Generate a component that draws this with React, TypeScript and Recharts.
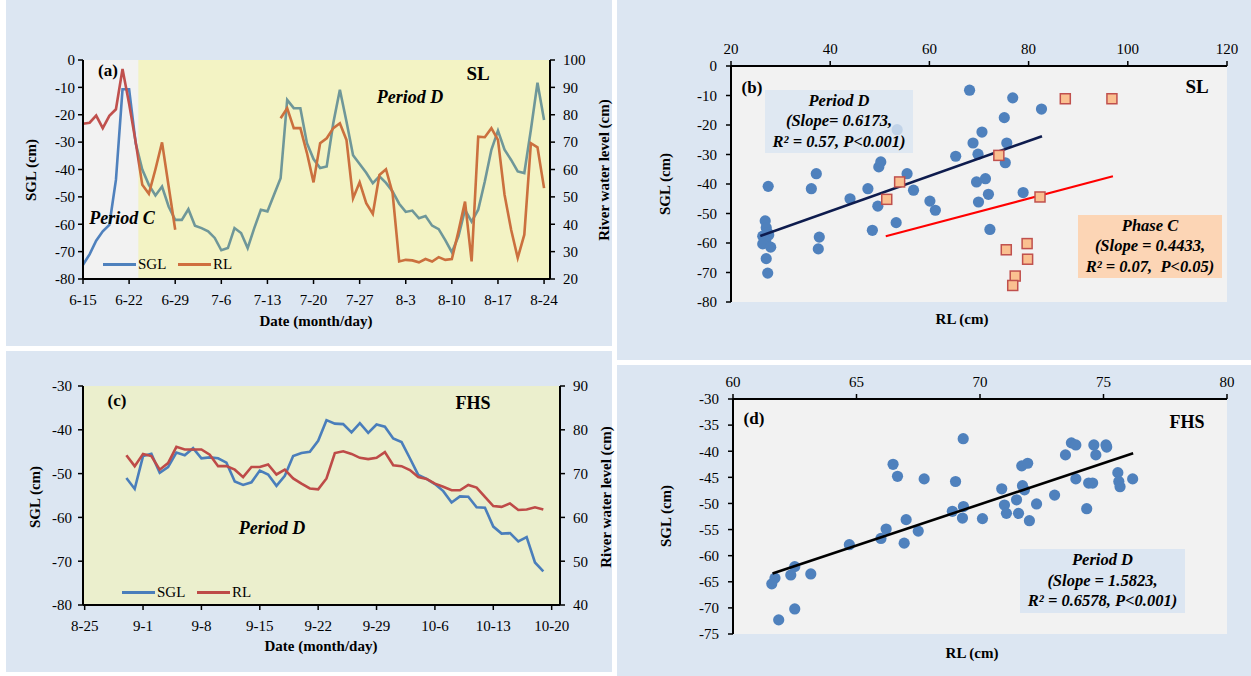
import React from 'react';
import { ComposedChart, Line, Scatter, XAxis, YAxis, ReferenceArea } from 'recharts';

const FONT = '"Liberation Serif", "DejaVu Serif", serif';

// (a) SL: daily values from 6-15 (day 0)
const A_TICK_LABELS = ['6-15', '6-22', '6-29', '7-6', '7-13', '7-20', '7-27', '8-3', '8-10', '8-17', '8-24'];
const A_SGL = [
  -74.8, -71, -66, -62.6, -60.2, -43.8, -10.7, -10.7, -30.4, -40, -45.6, -49.5, -46.2, -53.5, -58.4,
  -58.4, -54.5, -60.5, -61.4, -62.6, -65, -69.5, -68.7, -61.4, -63.2, -68.7, -61.4, -54.7, -55.3, -49.2,
  -43.2, -14.6, -17.6, -17.6, -30.4, -36.2, -39.5, -38.9, -23, -10.9, -22.5, -34.8, -38, -41.2, -45,
  -42.5, -44.9, -48, -52.5, -55.5, -55, -57.8, -57, -60.5, -61.8, -65.8, -70.2, -64.4, -54.7, -59,
  -54.7, -44.4, -32.8, -25.8, -32.8, -36.5, -40.7, -41.3, -25.5, -8.3, -21.9,
];
const A_RL = [
  76.7, 77.1, 79.7, 75.1, 79.6, 82, 96.7, 84, 70, 54.4, 51.1, 60.1, 69.9, 53.9, 38,
  null, null, null, null, null, null, null, null, null, null, null, null, null, null, null,
  78.7, 82.4, 75.1, 75.1, 66, 55.3, 69.6, 71.4, 75.1, 76.9, 70.8, 49.5, 55.3, 47.7, 43.8,
  58, 60.1, 51.4, 26.4, 27, 26.8, 26.1, 27.3, 26.4, 28, 27, 27.3, 37.4, 48.3, 26.4,
  72, 71.8, 75.1, 70.8, 50.8, 38, 27.7, 36.2, 69.6, 68.1, 53.2,
];
const A_PERIOD_C_END = 8.4;

// (c) FHS: daily values from 8-30 (day 5 after 8-25)
const C_TICK_LABELS = ['8-25', '9-1', '9-8', '9-15', '9-22', '9-29', '10-6', '10-13', '10-20'];
const C_FIRST_DAY = 5;
const C_SGL = [
  -51, -53.5, -46, -45.5, -49.8, -48.5, -45.2, -45.8, -44.2, -46.5, -46.3, -46.5, -47.5, -51.8, -52.6,
  -52, -49.3, -50.2, -52.8, -50.5, -46, -45.3, -45, -42.5, -37.8, -38.6, -38.7, -40.6, -38.5, -40.7,
  -38.8, -39.3, -42, -42.8, -46.5, -50.3, -51.2, -52.4, -54, -56.6, -55.2, -55.3, -57.7, -57.8, -62.1,
  -63.7, -63.6, -65.5, -64.5, -70.3, -72.3,
];
const C_RL = [
  74.2, 71.7, 74.5, 74, 70.9, 72.4, 76.1, 75.5, 75.5, 75.5, 74.3, 71.7, 71.7, 70.9, 69.2,
  71.5, 71.5, 72.1, 69.8, 70.9, 68.9, 67.7, 66.6, 66.4, 68.9, 74.7, 75.1, 74.5, 73.6, 73.3,
  73.6, 74.9, 71.9, 71.7, 70.8, 69.2, 68.8, 67.7, 67, 66.2, 66.2, 67.4, 66.8, 64.7, 62.6,
  62.4, 63.2, 61.7, 61.8, 62.3, 61.8,
];

// (b) SL scatter: [RL, SGL]
const B_PERIOD_D: [number, number][] = [
  [27.5, -40.8], [26.9, -52.5], [27.1, -54.8], [27.4, -56.5], [26.4, -57.7], [27.6, -57.3],
  [27.0, -59.3], [26.4, -60.3], [28.0, -61.4], [27.1, -65.3], [27.4, -70.2],
  [37.2, -36.5], [36.2, -41.6], [37.8, -58], [37.6, -62], [44, -45], [47.6, -41.6], [48.5, -55.7],
  [49.6, -47.5], [49.8, -34.2], [50.2, -32.5], [53.3, -53.1], [53.5, -21.6], [55.5, -36.5],
  [56.8, -42.1], [60.1, -45.8], [61.2, -48.9], [65.3, -30.6], [68.1, -8.2], [68.8, -26.1],
  [69.8, -29.9], [70.6, -22.4], [69.5, -39.3], [71.3, -38.2], [69.9, -46.1], [71.9, -43.5],
  [72.2, -55.4], [76.8, -10.8], [82.6, -14.6], [75.1, -17.5], [75.6, -26.1], [75.3, -32.8],
  [78.9, -42.9],
];
const B_PHASE_C: [number, number][] = [
  [87.4, -11.1], [96.8, -11.1], [74, -30.3], [82.3, -44.4], [75.5, -62.3], [79.7, -60.2],
  [79.8, -65.5], [77.3, -71.2], [76.8, -74.4], [54, -39.3], [51.4, -45.2],
];
const B_TREND_D: [number, number][] = [[25.9, -57.6], [82.7, -23.8]];
const B_TREND_C: [number, number][] = [[51.2, -57.7], [97, -37.4]];

// (d) FHS scatter: [RL, SGL]
const D_PERIOD_D: [number, number][] = [
  [69.32, -37.6], [66.48, -42.5], [66.66, -44.8], [67.74, -45.3], [69.01, -45.8], [70.88, -47.2],
  [70.99, -50.3], [71.48, -49.3], [71.07, -51.9], [71.56, -51.9], [71.72, -46.6], [71.8, -47.4],
  [71.69, -42.8], [71.93, -42.3], [72.0, -53.3], [72.29, -50.1], [73.02, -48.4], [73.46, -40.7],
  [73.7, -38.4], [73.88, -38.8], [73.88, -45.3], [74.32, -51], [74.4, -46.1], [74.56, -46.1],
  [74.61, -38.8], [74.69, -40.7], [75.1, -38.8], [75.13, -39.2], [75.58, -44.1], [75.62, -45.8],
  [75.67, -46.8], [76.18, -45.3], [70.1, -52.9], [69.33, -50.6], [69.29, -52.8], [68.88, -51.5],
  [67.5, -55.3], [67.01, -53.1], [66.93, -57.6], [66.2, -54.9], [65.99, -56.7], [64.71, -57.9],
  [63.15, -63.5], [62.5, -62.1], [62.34, -63.7], [61.7, -64.3], [61.57, -65.4], [62.5, -70.2],
  [61.85, -72.3],
];
const D_TREND: [number, number][] = [[61.6, -63.4], [76.2, -40.4]];

const A_LEFT_TICKS = [-80, -70, -60, -50, -40, -30, -20, -10, 0];
const A_RIGHT_TICKS = [20, 30, 40, 50, 60, 70, 80, 90, 100];
const C_LEFT_TICKS = [-80, -70, -60, -50, -40, -30];
const C_RIGHT_TICKS = [40, 50, 60, 70, 80, 90];
const B_X_TICKS = [20, 40, 60, 80, 100, 120];
const D_X_TICKS = [60, 65, 70, 75, 80];
const D_Y_TICKS = [-75, -70, -65, -60, -55, -50, -45, -40, -35, -30];

const aData = A_SGL.map((sgl, i) => ({ day: i, sgl, rl: A_RL[i] }));
const cData = C_SGL.map((sgl, i) => ({ day: C_FIRST_DAY + i, sgl, rl: C_RL[i] }));
const toXY = (pts: [number, number][]) => pts.map(([x, y]) => ({ x, y }));

const axisLine = { stroke: '#000', strokeWidth: 2 };
const tickLine = { stroke: '#000', strokeWidth: 1.5 };
const tickStyle = { fontSize: 15, fill: '#000', fontFamily: FONT };

const Dot = (p: any) => <circle cx={p.cx} cy={p.cy} r={5.6} fill="#4f81bd" />;
const Square = (p: any) => (
  <rect x={p.cx - 5} y={p.cy - 5} width={10} height={10} fill="#fac090" stroke="#c0504d" strokeWidth={1.5} />
);
const NoShape = () => <g />;

const Txt = ({ x, y, size = 15, bold = true, italic = false, rotate = false, children }: any) => (
  <div
    style={{
      position: 'absolute',
      left: x,
      top: y,
      transform: `translate(-50%, -50%)${rotate ? ' rotate(-90deg)' : ''}`,
      whiteSpace: 'nowrap',
      fontFamily: FONT,
      fontSize: size,
      fontWeight: bold ? 700 : 400,
      fontStyle: italic ? 'italic' : 'normal',
      lineHeight: 1,
      color: '#000',
    }}
  >
    {children}
  </div>
);

const Box = ({ x, y, w, h, bg, lines }: any) => (
  <div
    style={{
      position: 'absolute',
      left: x,
      top: y,
      width: w,
      height: h,
      background: bg,
      display: 'flex',
      flexDirection: 'column',
      alignItems: 'center',
      justifyContent: 'center',
      fontFamily: FONT,
      fontSize: 16.5,
      fontWeight: 700,
      fontStyle: 'italic',
      lineHeight: '20.5px',
      whiteSpace: 'pre',
    }}
  >
    {lines.map((l: string) => (
      <div key={l}>{l}</div>
    ))}
  </div>
);

const LegendKey = ({ x, y, color, label }: any) => (
  <div style={{ position: 'absolute', left: x, top: y - 9, display: 'flex', alignItems: 'center', fontFamily: FONT, fontSize: 15 }}>
    <div style={{ width: 33, height: 3, background: color, marginRight: 2 }} />
    <span>{label}</span>
  </div>
);

const panel = (left: number, top: number, width: number, height: number) => (
  <div style={{ position: 'absolute', left, top, width, height, background: '#dce6f2' }} />
);

export default function App() {
  return (
    <div style={{ position: 'fixed', left: 0, top: 0, width: 1251, height: 676, background: '#fff', overflow: 'hidden' }}>
      {panel(6, 0, 606, 346)}
      {panel(617, 0, 634, 360)}
      {panel(6, 351, 606, 321)}
      {panel(617, 365, 634, 311)}

      {/* (a) */}
      <div style={{ position: 'absolute', left: 0, top: 0 }}>
        <ComposedChart width={612} height={345} data={aData} margin={{ top: 60, right: 12, bottom: 26, left: 0 }}>
          <XAxis
            xAxisId="b"
            dataKey="day"
            type="number"
            domain={[0, 70.9]}
            ticks={A_TICK_LABELS.map((_, i) => i * 7)}
            tickFormatter={(v: number) => A_TICK_LABELS[Math.round(v / 7)]}
            interval={0}
            height={40}
            axisLine={axisLine}
            tickLine={tickLine}
            tickSize={5}
            tickMargin={10}
            tick={tickStyle}
          />
          <XAxis xAxisId="t" orientation="top" type="number" domain={[0, 70.9]} height={0} tick={false} tickLine={false} axisLine={axisLine} />
          <YAxis yAxisId="l" domain={[-80, 0]} ticks={A_LEFT_TICKS} interval={0} width={83} axisLine={axisLine} tickLine={tickLine} tickSize={5} tickMargin={3} tick={tickStyle} />
          <YAxis yAxisId="r" orientation="right" domain={[20, 100]} ticks={A_RIGHT_TICKS} interval={0} width={50} axisLine={axisLine} tickLine={tickLine} tickSize={5} tickMargin={8} tick={tickStyle} />
          <ReferenceArea xAxisId="b" yAxisId="l" x1={0} x2={70.9} y1={-80} y2={0} fill="#f2f2f2" fillOpacity={1} zIndex={-10} />
          <Line xAxisId="b" yAxisId="l" dataKey="sgl" stroke="#4f81bd" strokeWidth={2.6} dot={false} activeDot={false} isAnimationActive={false} />
          <Line xAxisId="b" yAxisId="r" dataKey="rl" stroke="#c0504d" strokeWidth={2.6} dot={false} activeDot={false} isAnimationActive={false} />
          <ReferenceArea xAxisId="b" yAxisId="l" x1={A_PERIOD_C_END} x2={70.9} y1={-80} y2={0} fill="#f8f800" fillOpacity={0.19} zIndex={450} />
        </ComposedChart>
      </div>
      <Txt x={108} y={70} size={17}>(a)</Txt>
      <Txt x={478} y={73} size={19}>SL</Txt>
      <Txt x={410} y={97} size={18} italic>Period D</Txt>
      <Txt x={122} y={218} size={18} italic>Period C</Txt>
      <LegendKey x={103} y={265} color="#4f81bd" label="SGL" />
      <LegendKey x={178} y={265} color="#cf6e3f" label="RL" />
      <Txt x={316} y={321} size={15}>Date (month/day)</Txt>
      <Txt x={31} y={170} size={15} rotate>SGL (cm)</Txt>
      <Txt x={604} y={170} size={15} rotate>River water level (cm)</Txt>

      {/* (b) */}
      <div style={{ position: 'absolute', left: 620, top: 0 }}>
        <ComposedChart width={631} height={355} margin={{ top: 36, right: 24, bottom: 53, left: 0 }}>
          <XAxis xAxisId="t" orientation="top" dataKey="x" type="number" domain={[20, 120]} ticks={B_X_TICKS} interval={0} height={30} axisLine={axisLine} tickLine={tickLine} tickSize={5} tickMargin={7} tick={tickStyle} />
          <XAxis xAxisId="b" orientation="bottom" type="number" domain={[20, 120]} height={0} tick={false} tickLine={false} axisLine={axisLine} />
          <YAxis yAxisId="l" dataKey="y" type="number" domain={[-80, 0]} ticks={A_LEFT_TICKS} interval={0} width={111} axisLine={axisLine} tickLine={tickLine} tickSize={5} tickMargin={9} tick={tickStyle} />
          <YAxis yAxisId="r" orientation="right" type="number" domain={[-80, 0]} width={0} tick={false} tickLine={false} axisLine={axisLine} />
          <ReferenceArea xAxisId="t" yAxisId="l" x1={20} x2={120} y1={-80} y2={0} fill="#f2f2f2" fillOpacity={1} zIndex={-10} />
          <Scatter xAxisId="t" yAxisId="l" data={toXY(B_PERIOD_D)} shape={Dot} isAnimationActive={false} />
          <Scatter xAxisId="t" yAxisId="l" data={toXY(B_TREND_D)} shape={NoShape} line={{ stroke: '#0e1c4e', strokeWidth: 2.6 }} isAnimationActive={false} />
          <Scatter xAxisId="t" yAxisId="l" data={toXY(B_TREND_C)} shape={NoShape} line={{ stroke: '#ff0000', strokeWidth: 2 }} isAnimationActive={false} />
          <Scatter xAxisId="t" yAxisId="l" data={toXY(B_PHASE_C)} shape={Square} isAnimationActive={false} />
        </ComposedChart>
      </div>
      <Txt x={752} y={87} size={17}>(b)</Txt>
      <Txt x={1197} y={86} size={19}>SL</Txt>
      <Box x={765} y={90} w={148} h={63} bg="rgba(219,229,241,0.82)" lines={['Period D', '(Slope= 0.6173,', 'R² = 0.57, P<0.001)']} />
      <Box x={1078} y={215} w={144} h={63} bg="#fcd5b5" lines={['Phase C', '(Slope = 0.4433,', 'R² = 0.07,  P<0.05)']} />
      <Txt x={962} y={319} size={15}>RL (cm)</Txt>
      <Txt x={665} y={184} size={15} rotate>SGL (cm)</Txt>

      {/* (c) */}
      <div style={{ position: 'absolute', left: 0, top: 352 }}>
        <ComposedChart width={612} height={320} data={cData} margin={{ top: 34, right: 7, bottom: 27, left: 0 }}>
          <XAxis
            xAxisId="b"
            dataKey="day"
            type="number"
            domain={[-0.2, 57]}
            ticks={C_TICK_LABELS.map((_, i) => i * 7)}
            tickFormatter={(v: number) => C_TICK_LABELS[Math.round(v / 7)]}
            interval={0}
            height={40}
            axisLine={axisLine}
            tickLine={tickLine}
            tickSize={5}
            tickMargin={10}
            tick={tickStyle}
          />
          <XAxis xAxisId="t" orientation="top" type="number" domain={[-0.2, 57]} height={0} tick={false} tickLine={false} axisLine={axisLine} />
          <YAxis yAxisId="l" domain={[-80, -30]} ticks={C_LEFT_TICKS} interval={0} width={83} axisLine={axisLine} tickLine={tickLine} tickSize={5} tickMargin={6} tick={tickStyle} />
          <YAxis yAxisId="r" orientation="right" domain={[40, 90]} ticks={C_RIGHT_TICKS} interval={0} width={45} axisLine={axisLine} tickLine={tickLine} tickSize={5} tickMargin={8} tick={tickStyle} />
          <ReferenceArea xAxisId="b" yAxisId="l" x1={-0.2} x2={57} y1={-80} y2={-30} fill="#ebefcd" fillOpacity={1} zIndex={-10} />
          <Line xAxisId="b" yAxisId="l" dataKey="sgl" stroke="#4a7ebb" strokeWidth={2.6} dot={false} activeDot={false} isAnimationActive={false} />
          <Line xAxisId="b" yAxisId="r" dataKey="rl" stroke="#be4b48" strokeWidth={2.6} dot={false} activeDot={false} isAnimationActive={false} />
        </ComposedChart>
      </div>
      <Txt x={117} y={400} size={17}>(c)</Txt>
      <Txt x={473} y={403} size={18}>FHS</Txt>
      <Txt x={272} y={528} size={18} italic>Period D</Txt>
      <LegendKey x={122} y={593} color="#4a7ebb" label="SGL" />
      <LegendKey x={197} y={593} color="#be4b48" label="RL" />
      <Txt x={321} y={646} size={15}>Date (month/day)</Txt>
      <Txt x={35} y={497} size={15} rotate>SGL (cm)</Txt>
      <Txt x={606} y={497} size={15} rotate>River water level (cm)</Txt>

      {/* (d) */}
      <div style={{ position: 'absolute', left: 620, top: 360 }}>
        <ComposedChart width={631} height={316} margin={{ top: 9, right: 24, bottom: 42, left: 0 }}>
          <XAxis xAxisId="t" orientation="top" dataKey="x" type="number" domain={[60, 80]} ticks={D_X_TICKS} interval={0} height={30} axisLine={axisLine} tickLine={tickLine} tickSize={5} tickMargin={7} tick={tickStyle} />
          <XAxis xAxisId="b" orientation="bottom" type="number" domain={[60, 80]} height={0} tick={false} tickLine={false} axisLine={axisLine} />
          <YAxis yAxisId="l" dataKey="y" type="number" domain={[-75, -30]} ticks={D_Y_TICKS} interval={0} width={113} axisLine={axisLine} tickLine={tickLine} tickSize={5} tickMargin={9} tick={tickStyle} />
          <YAxis yAxisId="r" orientation="right" type="number" domain={[-75, -30]} width={0} tick={false} tickLine={false} axisLine={axisLine} />
          <ReferenceArea xAxisId="t" yAxisId="l" x1={60} x2={80} y1={-75} y2={-30} fill="#f2f2f2" fillOpacity={1} zIndex={-10} />
          <Scatter xAxisId="t" yAxisId="l" data={toXY(D_PERIOD_D)} shape={Dot} isAnimationActive={false} />
          <Scatter xAxisId="t" yAxisId="l" data={toXY(D_TREND)} shape={NoShape} line={{ stroke: '#000', strokeWidth: 2.6 }} isAnimationActive={false} />
        </ComposedChart>
      </div>
      <Txt x={754} y={418} size={17}>(d)</Txt>
      <Txt x={1187} y={422} size={18}>FHS</Txt>
      <Box x={1020} y={549} w={165} h={64} bg="#dce6f2" lines={['Period D', '(Slope = 1.5823,', 'R² = 0.6578, P<0.001)']} />
      <Txt x={972} y={653} size={15}>RL (cm)</Txt>
      <Txt x={666} y={516} size={15} rotate>SGL (cm)</Txt>
    </div>
  );
}
